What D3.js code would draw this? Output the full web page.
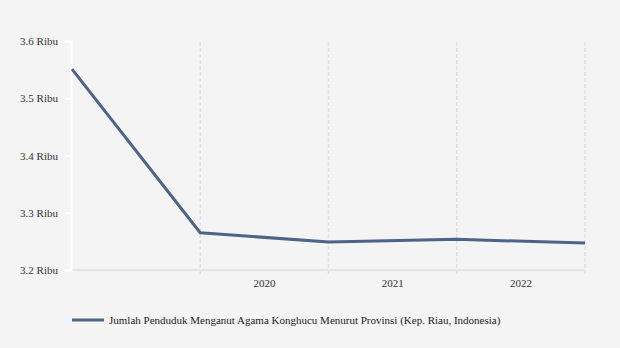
<!DOCTYPE html>
<html>
<head>
<meta charset="utf-8">
<script src="https://cdn.jsdelivr.net/npm/d3@7"></script>
<style>
  body { margin: 0; background: #f4f4f4; }
  svg { display: block; font-family: "Liberation Serif", "Times New Roman", serif; }
</style>
</head>
<body>
<div id="chart"></div>
<script>
/* DATA */
const years = [2019, 2020, 2021, 2022, 2023];
const values = [3.551, 3.265, 3.249, 3.2535, 3.247];
const yTicks = [3.2, 3.3, 3.4, 3.5, 3.6];
const xLabels = ["2020", "2021", "2022"];
const seriesName = "Jumlah Penduduk Menganut Agama Konghucu Menurut Provinsi (Kep. Riau, Indonesia)";

const width = 620, height = 348,
  margin = { top: 41, bottom: 78, left: 72, right: 35 };

const svg = d3.select("#chart").append("svg")
  .attr("width", width)
  .attr("height", height);

svg.append("rect").attr("width", width).attr("height", height).attr("fill", "#f4f4f4");

const xScale = d3.scaleLinear()
  .domain([2019, 2023])
  .range([margin.left, width - margin.right]);

const yScale = d3.scaleLinear()
  .domain([3.2, 3.6])
  .range([height - margin.bottom, margin.top]);

// vertical dashed grid at year boundaries
svg.append("g")
  .selectAll("line")
  .data(years.slice(1))
  .join("line")
  .attr("x1", d => xScale(d)).attr("x2", d => xScale(d))
  .attr("y1", margin.top + 1).attr("y2", yScale(3.2) + 5)
  .attr("stroke", "#e0e0e0")
  .attr("stroke-width", 1.5)
  .attr("stroke-dasharray", "4,2");

// bottom axis line
svg.append("line")
  .attr("x1", xScale(2019)).attr("x2", xScale(2023))
  .attr("y1", yScale(3.2)).attr("y2", yScale(3.2))
  .attr("stroke", "#e4e4e4")
  .attr("stroke-width", 2);

// x labels centred in each year
svg.append("g")
  .selectAll("text")
  .data(xLabels)
  .join("text")
  .attr("x", d => xScale(+d + 0.5))
  .attr("y", yScale(3.2) + 17)
  .attr("text-anchor", "middle")
  .attr("font-size", 11)
  .attr("fill", "#333")
  .text(d => d);

// y axis
const yAxis = d3.axisLeft(yScale)
  .tickValues(yTicks)
  .tickSize(6)
  .tickPadding(7)
  .tickFormat(d => d3.format(".1f")(d) + " Ribu");

const gy = svg.append("g")
  .attr("transform", `translate(${margin.left - 1},0)`)
  .call(yAxis);
gy.select(".domain").attr("stroke", "#fff").attr("stroke-width", 2);
gy.selectAll(".tick line").attr("stroke", "#fff").attr("stroke-width", 2);
gy.selectAll(".tick text")
  .attr("font-family", "Liberation Serif, serif")
  .attr("font-size", 11)
  .attr("fill", "#333");

// line
const lineFunc = d3.line()
  .x((d, i) => xScale(years[i]))
  .y(d => yScale(d));

svg.append("path")
  .datum(values)
  .attr("d", lineFunc)
  .attr("fill", "none")
  .attr("stroke", "#4b6487")
  .attr("stroke-width", 3)
  .attr("stroke-linejoin", "round");

// legend
const legend = svg.append("g").attr("transform", "translate(72,320)");
legend.append("line")
  .attr("x1", 0).attr("x2", 32)
  .attr("stroke", "#4b6487")
  .attr("stroke-width", 3);
legend.append("text")
  .attr("x", 37)
  .attr("y", 4)
  .attr("font-size", 11)
  .attr("fill", "#222")
  .text(seriesName);
</script>
</body>
</html>
